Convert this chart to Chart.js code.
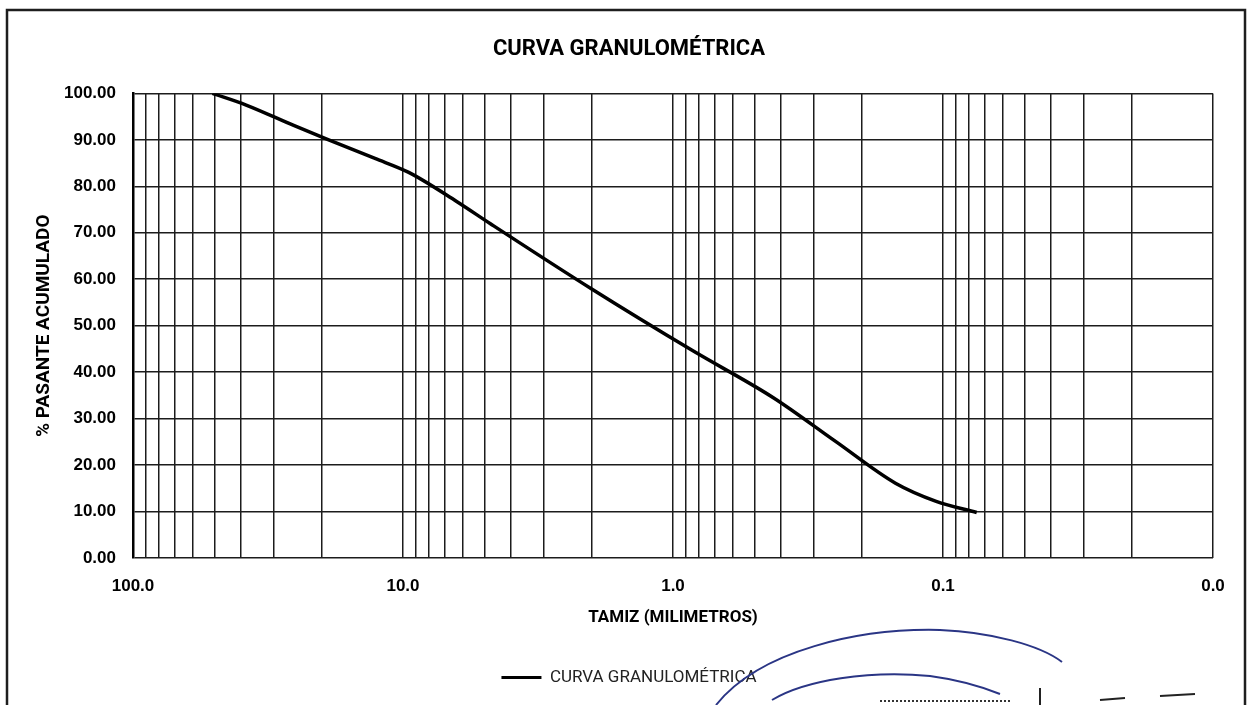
<!DOCTYPE html>
<html lang="es">
<head>
<meta charset="utf-8">
<title>Curva granulométrica</title>
<script src="https://cdn.jsdelivr.net/npm/chart.js@4/dist/chart.umd.min.js"></script>
<style>
  html, body { margin: 0; padding: 0; background: #fff; }
  #wrap { width: 1250px; height: 705px; }
</style>
</head>
<body>
<div id="wrap"><canvas id="chart" width="1250" height="705"></canvas></div>
<script>
// Abertura de tamiz (mm) y porcentaje que pasa acumulado
const sieveMm = [50.8, 38.1, 25.4, 19.05, 12.7, 9.525, 6.35, 4.76, 2.0, 0.85, 0.425, 0.25, 0.15, 0.106, 0.075];
const passing = [100.0, 97.5, 93.1, 90.1, 86.0, 83.0, 76.8, 72.0, 57.9, 44.7, 34.5, 25.1, 16.1, 12.2, 9.8];

// Décadas principales del eje logarítmico y sus rótulos
const xMajorValues = [100, 10, 1, 0.1, 0.01];
const xMajorLabels = ['100.0', '10.0', '1.0', '0.1', '0.0'];
const yTickLabels = ['0.00', '10.00', '20.00', '30.00', '40.00', '50.00', '60.00', '70.00', '80.00', '90.00', '100.00'];

const LETTERS = "Roboto, 'Liberation Sans', Arial, sans-serif";
const SANS = "'Liberation Sans', Arial, sans-serif";
const GRID = '#1c1c1c';

// Líneas de rejilla: 1..9 x 10^k en cada década
function logGridValues() {
  const vals = [];
  const decades = xMajorValues.slice().sort((a, b) => a - b);
  for (let i = 0; i < decades.length - 1; i++) {
    for (let k = 1; k <= 9; k++) vals.push(k * decades[i]);
  }
  vals.push(decades[decades.length - 1]);
  return vals;
}

function majorLabel(v) {
  for (let i = 0; i < xMajorValues.length; i++) {
    if (Math.abs(Math.log10(v) - Math.log10(xMajorValues[i])) < 1e-9) return xMajorLabels[i];
  }
  return '';
}

// Marco del área del gráfico y sello azul al pie
const framePlugin = {
  id: 'frame',
  beforeDraw(chart) {
    const c = chart.ctx;
    c.save();
    c.fillStyle = '#fff';
    c.fillRect(0, 0, chart.width, chart.height);
    c.restore();
  },
  afterDraw(chart) {
    const c = chart.ctx;
    c.save();
    c.strokeStyle = '#1e1e1e';
    c.lineWidth = 2.5;
    c.beginPath();
    c.moveTo(7, 705);
    c.lineTo(7, 10);
    c.lineTo(1245, 10);
    c.lineTo(1245, 705);
    c.stroke();

    // trazos del sello
    c.strokeStyle = '#2a3585';
    c.lineWidth = 2;
    c.beginPath();
    c.moveTo(716, 705);
    c.bezierCurveTo(760, 650, 860, 628, 940, 630);
    c.bezierCurveTo(990, 632, 1040, 645, 1062, 662);
    c.stroke();
    c.beginPath();
    c.moveTo(772, 700);
    c.bezierCurveTo(805, 680, 870, 670, 930, 676);
    c.bezierCurveTo(960, 680, 985, 688, 1000, 694);
    c.stroke();
    c.fillStyle = '#333';
    for (let x = 880; x < 1012; x += 4) c.fillRect(x, 700, 2, 2);
    c.strokeStyle = '#222';
    c.lineWidth = 2;
    c.beginPath();
    c.moveTo(1040, 688); c.lineTo(1040, 705);
    c.moveTo(1100, 700); c.lineTo(1125, 698);
    c.moveTo(1160, 696); c.lineTo(1195, 694);
    c.stroke();
    c.restore();
  }
};

Chart.defaults.color = '#000';

new Chart(document.getElementById('chart'), {
  type: 'line',
  data: {
    datasets: [{
      label: 'CURVA GRANULOMÉTRICA',
      data: sieveMm.map((d, i) => ({ x: d, y: passing[i] })),
      borderColor: '#000',
      backgroundColor: '#000',
      borderWidth: 3.5,
      pointRadius: 0,
      cubicInterpolationMode: 'monotone',
      fill: false
    }]
  },
  options: {
    responsive: false,
    animation: false,
    devicePixelRatio: 1,
    layout: { padding: { left: 8, right: 0, top: 0, bottom: 9 } },
    plugins: {
      title: {
        display: true,
        text: 'CURVA GRANULOMÉTRICA',
        color: '#000',
        font: { family: LETTERS, size: 22, weight: 'bold' },
        padding: { top: 36, bottom: 31 }
      },
      legend: {
        position: 'bottom',
        labels: {
          boxWidth: 40,
          boxHeight: 3,
          padding: 10,
          color: '#222',
          font: { family: LETTERS, size: 17 },
          generateLabels(chart) {
            return Chart.defaults.plugins.legend.labels.generateLabels(chart)
              .map(item => Object.assign(item, { lineWidth: 0 }));
          }
        }
      },
      tooltip: { enabled: false }
    },
    scales: {
      x: {
        type: 'logarithmic',
        min: 0.01,
        max: 100,
        reverse: true,
        afterBuildTicks(scale) {
          scale.ticks = logGridValues().map(v => ({ value: v }));
        },
        afterFit(scale) { scale.height = 101; },
        grid: { color: GRID, lineWidth: 1.5, drawTicks: false },
        border: { display: false },
        ticks: {
          autoSkip: false,
          maxRotation: 0,
          padding: 17.8,
          color: '#000',
          font: { family: SANS, size: 17, weight: 'bold' },
          callback: (v) => majorLabel(v)
        },
        title: {
          display: true,
          text: 'TAMIZ (MILIMETROS)',
          color: '#000',
          font: { family: LETTERS, size: 17, weight: 'bold' },
          padding: { top: 4, bottom: 31 }
        }
      },
      y: {
        min: 0,
        max: 100,
        afterFit(scale) { scale.width = 125; },
        grid: { color: GRID, lineWidth: 1.5, drawTicks: false },
        border: { display: true, color: '#000', width: 2.5 },
        ticks: {
          stepSize: 10,
          padding: 17,
          color: '#000',
          font: { family: SANS, size: 17, weight: 'bold' },
          callback: (v) => yTickLabels[Math.round(v / 10)]
        },
        title: {
          display: true,
          text: '% PASANTE ACUMULADO',
          color: '#000',
          font: { family: LETTERS, size: 19, weight: 'bold' },
          padding: { top: 25, bottom: 25 }
        }
      },
      yRight: {
        type: 'linear',
        position: 'right',
        display: true,
        grid: { display: false },
        border: { display: false },
        ticks: { display: false },
        afterFit(scale) { scale.width = 37; }
      }
    }
  },
  plugins: [framePlugin]
});
</script>
</body>
</html>
